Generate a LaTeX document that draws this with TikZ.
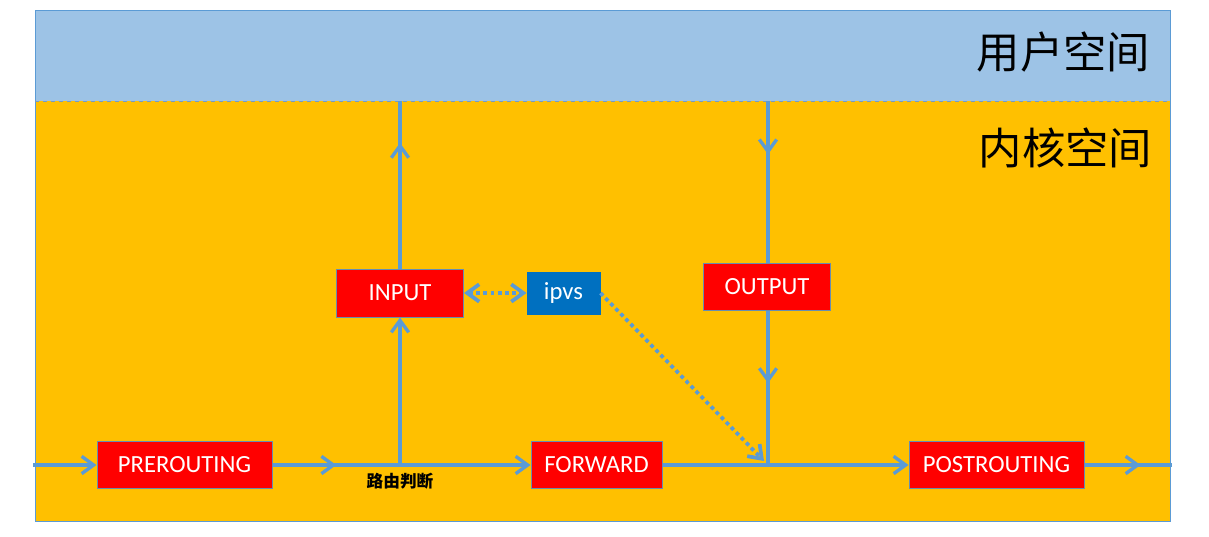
\documentclass[tikz,border=0pt]{standalone}
\usepackage{fontspec}
\setmainfont{Carlito}
\newfontfamily\cjk{Noto Sans CJK SC}
\usetikzlibrary{arrows.meta}
\usetikzlibrary{decorations.markings}
\definecolor{userblue}{HTML}{9DC3E6}
\definecolor{kernorange}{HTML}{FFC000}
\definecolor{flowblue}{HTML}{5B9BD5}
\definecolor{hookred}{HTML}{FF0000}
\definecolor{ipvsblue}{HTML}{0070C0}
\definecolor{boxedge}{HTML}{41719C}

\begin{document}
\begin{tikzpicture}[x=0.75pt,y=-0.75pt,
  hook/.style={draw=boxedge!80,line width=0.75pt,fill=hookred,text=white,inner sep=0pt,font=\fontsize{18.5}{22}\selectfont},
  flow/.style={draw=flowblue,line width=2.5pt},
  flowtip/.style={-{Straight Barb[length=9pt,width=13pt]}},
  midtip/.style={postaction={decorate},decoration={markings,mark=at position #1 with {\arrow{Straight Barb[length=9pt,width=13pt]}}}},
  dots/.style={draw=flowblue,line width=2.8pt,dash pattern=on 2.8pt off 2.6pt}]
  \fill[white] (0,0) rectangle (1209,536);
  \useasboundingbox (0,0) rectangle (1209,536);
  % user space and kernel space
  \fill[userblue] (35,10) rectangle (1170,101);
  \fill[kernorange] (35,101) rectangle (1170,521);
  \draw[flowblue,line width=0.75pt] (35,10) rectangle (1170,521);
  \draw[boxedge!70,line width=0.6pt,dashed] (35,101) -- (1170,101);
  \node[anchor=east,font=\cjk\fontsize{32.5}{36}\selectfont] (user) at (1155,52) {用户空间};
  \node[anchor=east,font=\cjk\fontsize{32.5}{36}\selectfont] (kern) at (1157,148) {内核空间};

  % hooks
  \node[hook,minimum width=131.25pt,minimum height=35.25pt] (pre) at (184.5,465) {PREROUTING};
  \node[hook,minimum width=95.25pt,minimum height=36pt] (input) at (400,293) {INPUT};
  \node[hook,fill=ipvsblue,draw=ipvsblue,minimum width=54.75pt,minimum height=31.5pt] (ipvs) at (563.5,293) {ipvs};
  \node[hook,minimum width=95.25pt,minimum height=35.25pt] (output) at (767,286.5) {OUTPUT};
  \node[hook,minimum width=98.25pt,minimum height=35.25pt] (fwd) at (596.5,465) {FORWARD};
  \node[hook,minimum width=131.25pt,minimum height=35.25pt] (post) at (996.5,465) {POSTROUTING};
  \node[font=\cjk\bfseries\fontsize{12.5}{14}\selectfont] (route) at (400,481) {路由判断};

  \coordinate (in) at (33,465);
  \coordinate (split) at (400,465);
  \coordinate (join) at (768,465);
  \coordinate (out) at (1172,465);
  \coordinate (top1) at (400,101);
  \coordinate (top2) at (768,101);
  \coordinate (dotend) at (764,461);

  % packet flow
  \draw[flow,flowtip] (in) -- (pre.west);
  \draw[flow,midtip=0.5] (pre.east) -- (split);
  \draw[flow,flowtip] (split) -- (fwd.west);
  \draw[flow,flowtip] (split) -- (input.south);
  \draw[flow,midtip=0.75] (input.north) -- (top1);
  \draw[flow,midtip=0.33] (top2) -- (top2 |- output.north);
  \draw[flow,midtip=0.47] (top2 |- output.south) -- (join);
  \draw[flow] (fwd.east) -- (join);
  \draw[flow,flowtip] (join) -- (post.west);
  \draw[flow,midtip=0.64] (post.east) -- (out);
  % ipvs hooks into INPUT
  \draw[dots,{Straight Barb[length=9pt,width=13pt]}-{Straight Barb[length=9pt,width=13pt]}] (input.east) -- (ipvs.west);
  \draw[dots,flowtip] (ipvs.east) -- (dotend);
\end{tikzpicture}
\end{document}
